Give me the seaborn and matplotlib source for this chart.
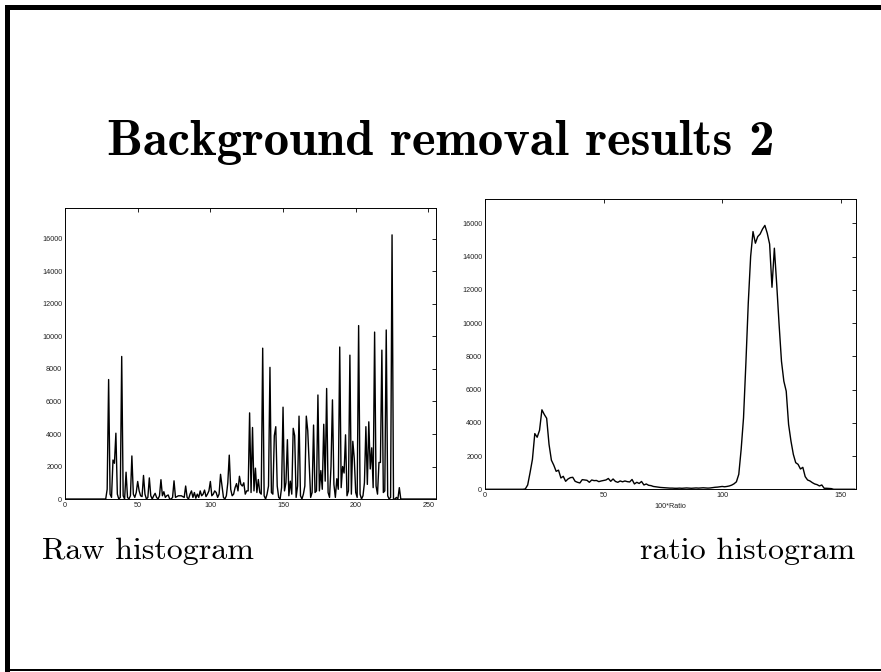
import matplotlib
matplotlib.use("Agg")
from matplotlib import pyplot as plt
from matplotlib.patches import Rectangle
import seaborn as sns

# raw grey-level histogram, bins 0..255 (zero outside 29..230)
raw_counts = [0] * 29 + [
    600, 7350, 300, 100, 2400, 2200, 4050, 300, 0, 100,          # 29-38
    8770, 200, 0, 1650, 100, 0, 200, 2650, 300, 100,             # 39-48
    400, 1080, 500, 200, 150, 1450, 300, 0, 100, 1300,           # 49-58
    200, 0, 200, 350, 100, 0, 200, 1190, 200, 450,               # 59-68
    100, 200, 250, 0, 0, 100, 1120, 100, 150, 200,               # 69-78
    200, 200, 150, 100, 800, 100, 0, 300, 500, 100,              # 79-88
    400, 50, 300, 100, 500, 200, 300, 550, 150, 300,             # 89-98
    500, 1080, 200, 300, 500, 400, 100, 300, 1520, 800,          # 99-108
    100, 0, 200, 1000, 2700, 600, 200, 300, 700, 950,            # 109-118
    500, 1400, 900, 800, 1000, 300, 500, 500, 5300, 400,         # 119-128
    4400, 500, 1900, 400, 1200, 400, 300, 9280, 200, 0,          # 129-138
    300, 800, 8100, 400, 300, 3900, 4450, 800, 100, 0,           # 139-148
    700, 5650, 500, 1000, 3650, 200, 1100, 300, 4350, 3900,      # 149-158
    100, 800, 5100, 200, 0, 300, 800, 5100, 4200, 2200,          # 159-168
    100, 400, 4550, 400, 500, 6400, 500, 1750, 600, 4600,        # 169-178
    1100, 6800, 400, 100, 2000, 6100, 900, 100, 1250, 600,       # 179-188
    9350, 700, 2000, 1600, 3950, 200, 500, 8850, 300, 3550,      # 189-198
    2500, 400, 100, 10670, 300, 0, 200, 1000, 4450, 900,         # 199-208
    4750, 1850, 3150, 700, 10270, 800, 300, 2250, 2250, 9160,    # 209-218
    400, 500, 10400, 200, 0, 100, 16250, 0, 0, 100,              # 219-228
    0, 700,                                                      # 229-230
]
raw_counts += [0] * (256 - len(raw_counts))
raw_bins = list(range(256))

# ratio histogram, 100*ratio from 0..156
ratio_counts = [0] * 17 + [
    20, 260, 1000, 1800, 3350, 3130, 3550, 4780, 4500, 4270,     # 17-26
    2700, 1750, 1450, 1080, 1150, 680, 780, 480, 620, 700,       # 27-36
    720, 480, 420, 380, 580, 560, 540, 420, 560, 520,            # 37-46
    530, 460, 500, 530, 560, 650, 480, 620, 470, 420,            # 47-56
    500, 450, 500, 460, 440, 590, 320, 420, 350, 470,            # 57-66
    260, 320, 240, 220, 170, 150, 130, 110, 100, 90,             # 67-76
    80, 70, 70, 60, 60, 70, 60, 70, 80, 70,                      # 77-86
    60, 70, 80, 70, 80, 90, 80, 70, 80, 100,                     # 87-96
    120, 130, 150, 170, 150, 170, 200, 250, 330, 450,            # 97-106
    900, 2400, 4300, 7600, 11200, 14000, 15500, 14800, 15200, 15350,  # 107-116
    15650, 15870, 15400, 14750, 12150, 14500, 12300, 9900, 7700, 6500,  # 117-126
    5900, 3900, 2900, 2100, 1600, 1500, 1220, 1320, 760, 560,    # 127-136
    500, 400, 320, 280, 200, 260, 60, 60, 50, 40,                # 137-146
]
ratio_counts += [0] * (157 - len(ratio_counts))
ratio_bins = list(range(157))

raw_xticks = [0, 50, 100, 150, 200, 250]
raw_yticks = [0, 2000, 4000, 6000, 8000, 10000, 12000, 14000, 16000]
ratio_xticks = [0, 50, 100, 150]
ratio_yticks = raw_yticks

sns.set_style("white")
plt.rcParams["font.family"] = ["Liberation Sans", "DejaVu Sans"]
plt.rcParams["text.color"] = "black"

fig = plt.figure(figsize=(8.81, 6.72), dpi=100)
fig.patch.set_facecolor("white")


def style_axes(ax, xlim, ylim, xticks, yticks):
    ax.set_xlim(*xlim)
    ax.set_ylim(*ylim)
    ax.set_xticks(xticks)
    ax.set_yticks(yticks)
    ax.set_xticklabels([str(t) for t in xticks])
    ax.set_yticklabels([str(t) for t in yticks])
    ax.tick_params(direction="in", length=3, width=0.6, colors="black",
                   labelcolor="#222222", labelsize=5.2, pad=2,
                   top=True, right=True)
    for s in ax.spines.values():
        s.set_visible(True)
        s.set_color("black")
        s.set_linewidth(0.7)
    ax.set_xlabel("")
    ax.set_ylabel("")


# left: raw histogram
ax1 = fig.add_axes([0.0738, 0.2574, 0.4207, 0.4330])
sns.lineplot(x=raw_bins, y=raw_counts, ax=ax1, color="black", linewidth=1.0)
style_axes(ax1, (0, 255), (0, 17900), raw_xticks, raw_yticks)

# right: ratio histogram
ax2 = fig.add_axes([0.5505, 0.2719, 0.4208, 0.4320])
sns.lineplot(x=ratio_bins, y=ratio_counts, ax=ax2, color="black", linewidth=1.0)
style_axes(ax2, (0, 156.3), (0, 17460), ratio_xticks, ratio_yticks)
ax2.set_xlabel("100*Ratio", fontsize=5.2, color="#222222", labelpad=3)

# slide text
fig.text(0.5, 1 - 155 / 672, "Background removal results 2", family="cmb10",
         fontsize=36.5, color="black", ha="center", va="baseline")
fig.text(42 / 881, 1 - 559 / 672, "Raw histogram", family="cmr10",
         fontsize=23, color="black", ha="left", va="baseline")
fig.text(855 / 881, 1 - 559 / 672, "ratio histogram", family="cmr10",
         fontsize=23, color="black", ha="right", va="baseline")

# slide frame
fig.add_artist(Rectangle((5 / 881, 1 - 10 / 672), 1, 5 / 672,
                         transform=fig.transFigure, color="black", lw=0))
fig.add_artist(Rectangle((5 / 881, 0), 5 / 881, 1 - 5 / 672,
                         transform=fig.transFigure, color="black", lw=0))
fig.add_artist(Rectangle((5 / 881, 1 / 672), 1, 2 / 672,
                         transform=fig.transFigure, color="black", lw=0))

fig.savefig("out.png", dpi=100, facecolor="white")
